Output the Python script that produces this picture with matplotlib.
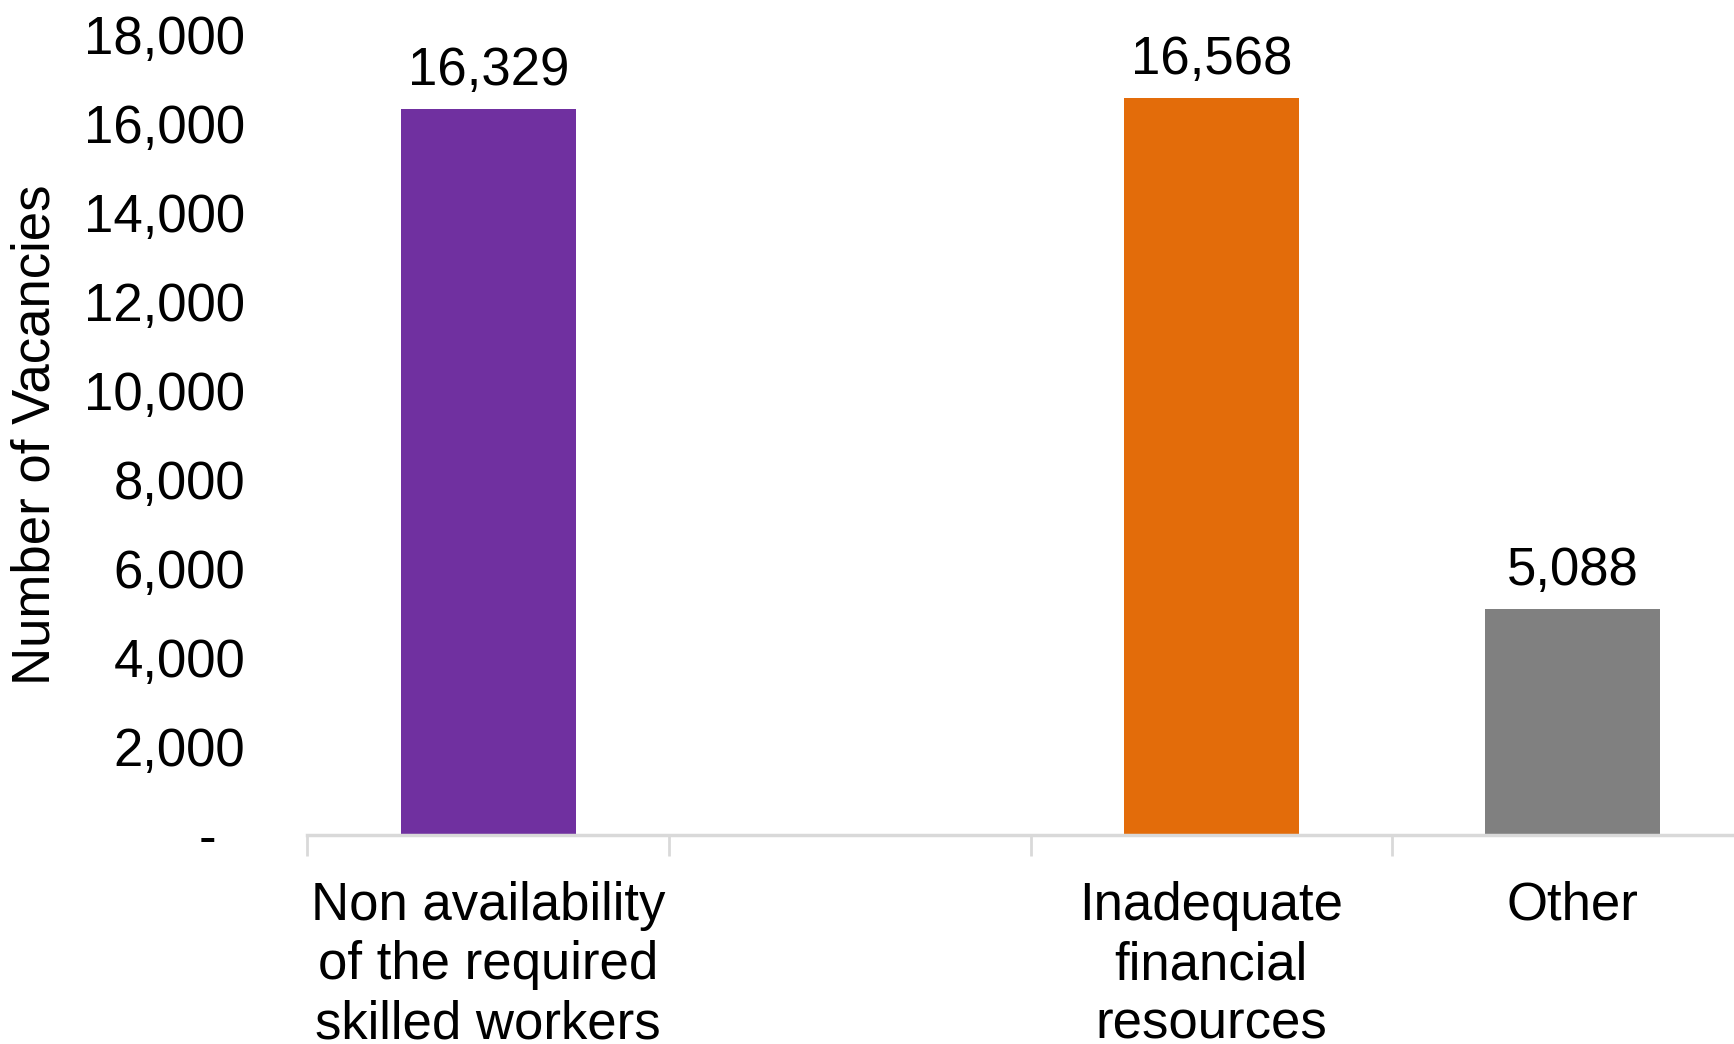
import numpy as np
import matplotlib.pyplot as plt
from matplotlib.ticker import FixedLocator, FuncFormatter

plt.rcParams['font.family'] = ['Liberation Sans', 'DejaVu Sans']

categories = ['Non availability\nof the required\nskilled workers', '',
              'Inadequate\nfinancial\nresources', 'Other']
values = [16329, np.nan, 16568, 5088]
colors = ['#7030A0', '#FFFFFF', '#E36C0A', '#808080']
yticks = [0, 2000, 4000, 6000, 8000, 10000, 12000, 14000, 16000, 18000]

fig = plt.figure(figsize=(17.34, 10.44), dpi=100)
ax = fig.add_axes([0.1773, 0.2002, 0.834, 0.767])

x = np.arange(len(categories))
bars = ax.bar(x, np.nan_to_num(values), width=0.485, color=colors, zorder=2)

# value labels
for xi, v in zip(x, values):
    if np.isnan(v):
        continue
    ax.annotate(f'{v:,.0f}', (xi, v), xytext=(0, 9), textcoords='offset points',
                ha='center', va='bottom', fontsize=38)

ax.set_xlim(-0.5, len(categories) - 0.5)
ax.set_ylim(0, 18000)
ax.set_yticks(yticks)
ax.yaxis.set_major_formatter(FuncFormatter(lambda v, p: '-  ' if v == 0 else f'{v:,.0f}'))
ax.tick_params(axis='y', length=0, labelsize=38, pad=44.6)

ax.set_xticks(x)
ax.set_xticklabels(categories, fontsize=38, linespacing=1.24)
ax.tick_params(axis='x', which='major', length=0, pad=33)
ax.xaxis.set_minor_locator(FixedLocator(np.arange(len(categories) + 1) - 0.5))
ax.tick_params(axis='x', which='minor', length=15, width=2, color='#D9D9D9')

for s in ['top', 'right', 'left']:
    ax.spines[s].set_visible(False)
ax.spines['bottom'].set_color('#D9D9D9')
ax.spines['bottom'].set_linewidth(2.5)

ax.set_ylabel('Number of Vacancies', fontsize=38)
ax.yaxis.set_label_coords(-0.171, 0.5, transform=ax.transAxes)

fig.savefig('out.png', dpi=100)
